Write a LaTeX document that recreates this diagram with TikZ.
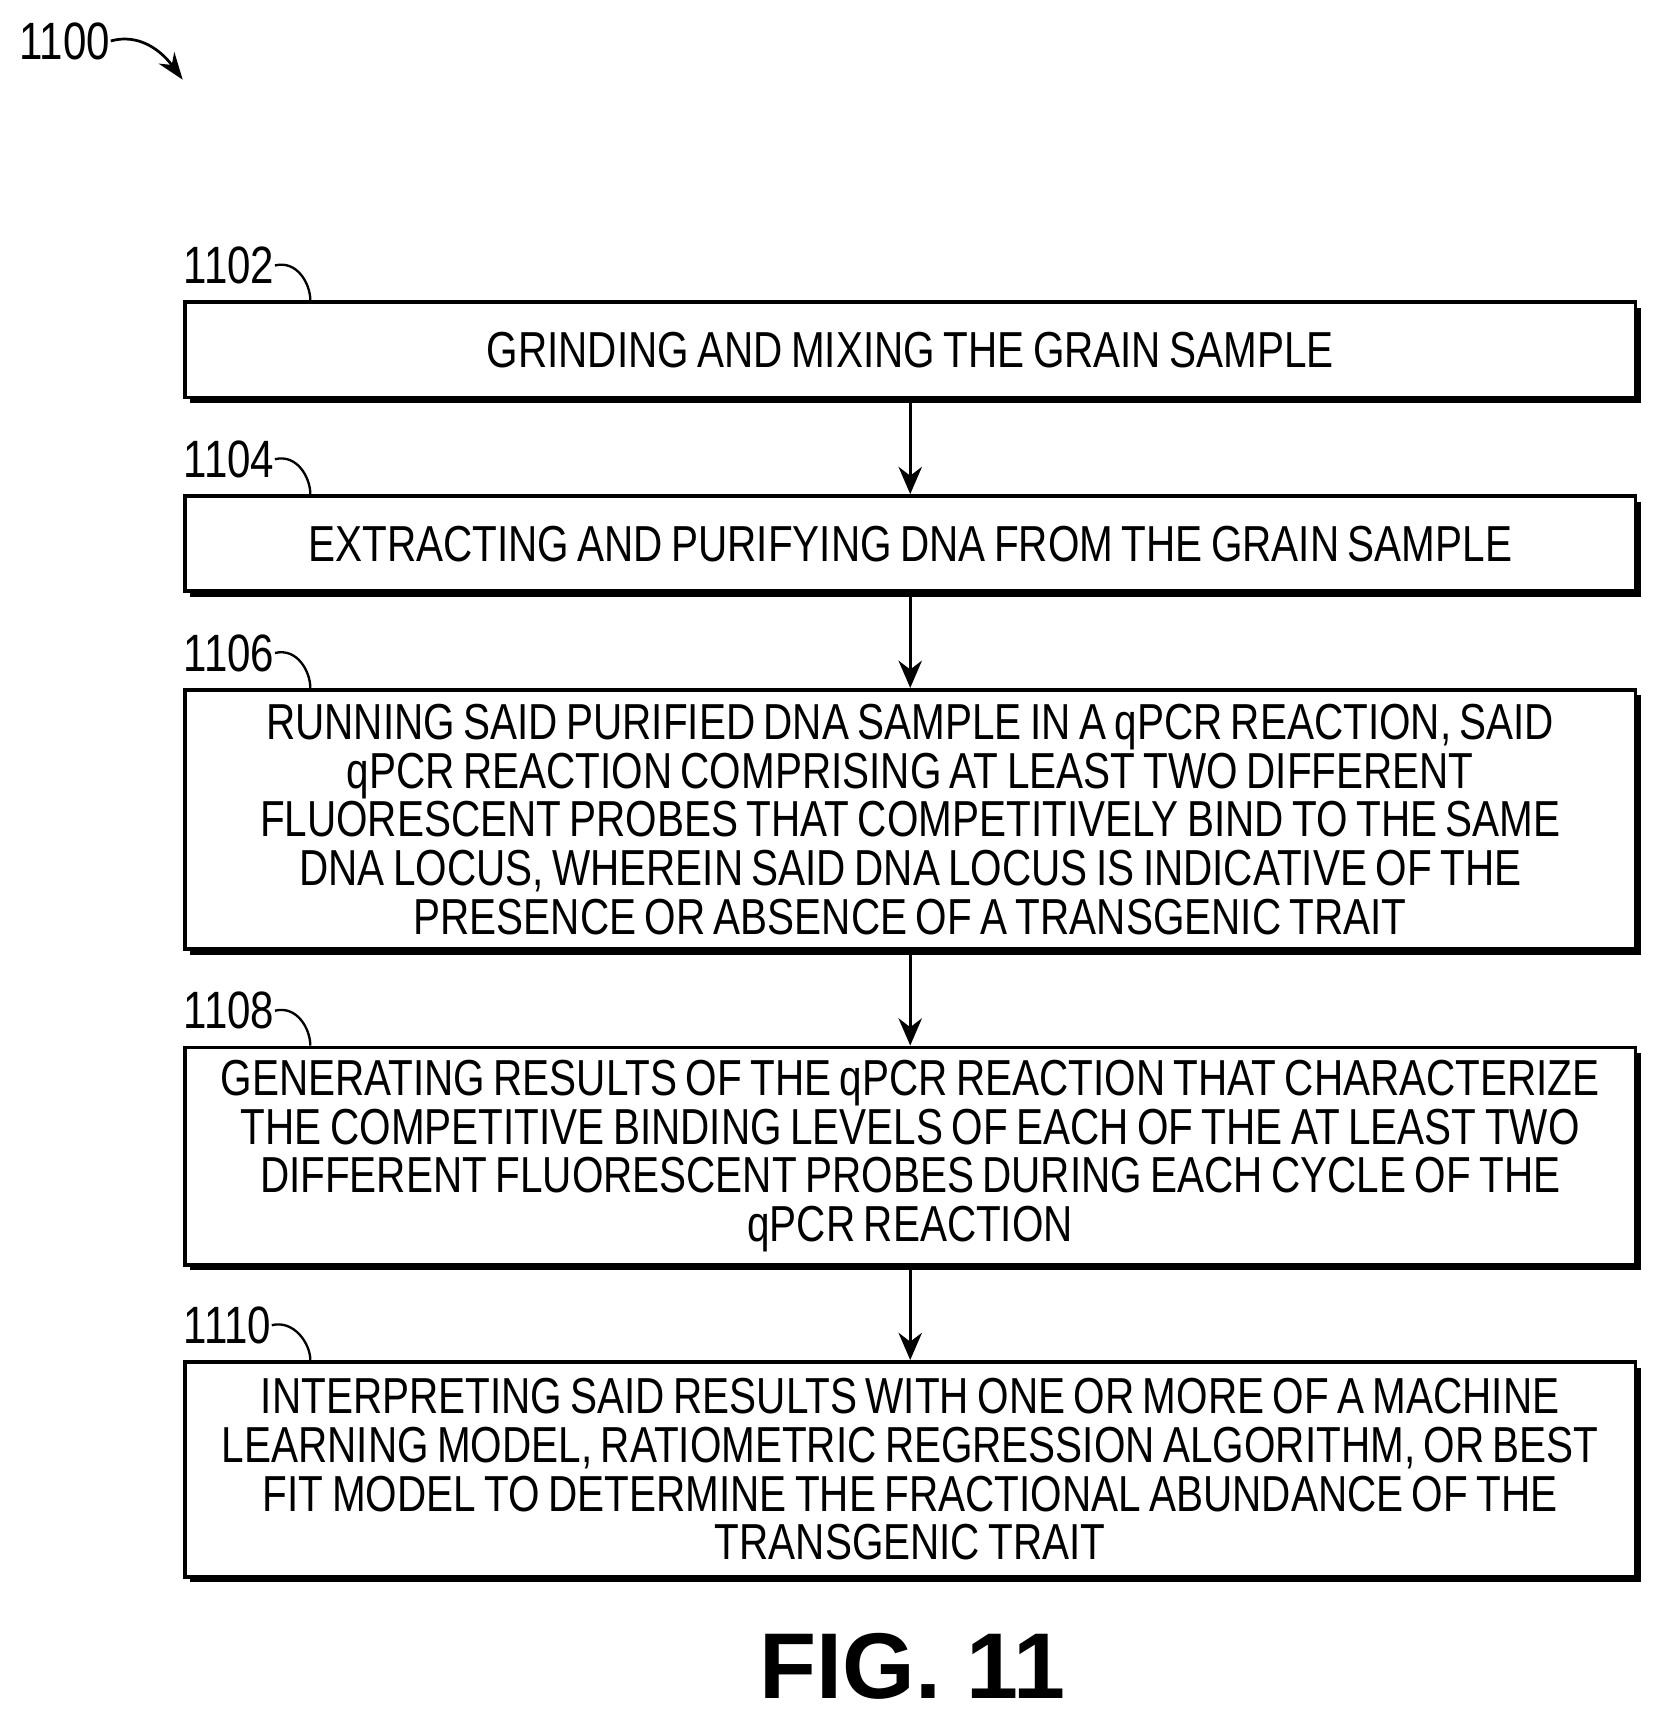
\documentclass[tikz,border=0pt]{standalone}
\usepackage{fontspec}
\setmainfont{Liberation Sans}[FakeStretch=0.8,WordSpace=0.75]
\newfontfamily\figfont{Liberation Sans}
\usetikzlibrary{arrows.meta,shadows,positioning}
\tikzset{stepbox/.style={draw,line width=1pt,fill=white,minimum width=13.1cm,align=center,inner sep=2pt,font=\fontsize{13pt}{12.5pt}\selectfont,drop shadow={shadow xshift=0.05cm,shadow yshift=-0.05cm,fill=black,opacity=1}},
num/.style={font=\fontsize{13.5pt}{14pt}\selectfont,anchor=west,inner sep=0pt}}
\begin{document}
\begin{tikzpicture}[flow/.style={-{Stealth[length=7pt,width=6pt]},line width=0.8pt},hook/.style={line width=0.6pt}]
	\useasboundingbox (0,0) rectangle (15,-15.56);
	\node[num] (n1100) at (0.17,-0.37) {1100};
	\coordinate (t1100) at (1.65,-0.72);
	\draw[-{Stealth[length=7pt,width=5pt]},line width=0.7pt] (n1100.east) .. controls (1.25,-0.30) and (1.45,-0.45) .. (t1100);

	\node[stepbox,minimum height=0.86cm] (s1) at (8.22,-3.16) {GRINDING AND MIXING THE GRAIN SAMPLE};
	\node[stepbox,minimum height=0.86cm] (s2) at (8.22,-4.91) {EXTRACTING AND PURIFYING DNA FROM THE GRAIN SAMPLE};
	\node[stepbox,minimum height=2.34cm] (s3) at (8.22,-7.40) {RUNNING SAID PURIFIED DNA SAMPLE IN A qPCR REACTION, SAID\\qPCR REACTION COMPRISING AT LEAST TWO DIFFERENT\\FLUORESCENT PROBES THAT COMPETITIVELY BIND TO THE SAME\\DNA LOCUS, WHEREIN SAID DNA LOCUS IS INDICATIVE OF THE\\PRESENCE OR ABSENCE OF A TRANSGENIC TRAIT};
	\node[stepbox,minimum height=1.96cm] (s4) at (8.22,-10.44) {GENERATING RESULTS OF THE qPCR REACTION THAT CHARACTERIZE\\THE COMPETITIVE BINDING LEVELS OF EACH OF THE AT LEAST TWO\\DIFFERENT FLUORESCENT PROBES DURING EACH CYCLE OF THE\\qPCR REACTION};
	\node[stepbox,minimum height=1.94cm] (s5) at (8.22,-13.27) {INTERPRETING SAID RESULTS WITH ONE OR MORE OF A MACHINE\\LEARNING MODEL, RATIOMETRIC REGRESSION ALGORITHM, OR BEST\\FIT MODEL TO DETERMINE THE FRACTIONAL ABUNDANCE OF THE\\TRANSGENIC TRAIT};

	% reference numerals
	\foreach \s/\n in {s1/1102,s2/1104,s3/1106,s4/1108,s5/1110}{
		\node[num,above=0.14cm of \s.north west,anchor=south west] (l\n) {\n};
		\draw[hook] (l\n.east) .. controls +(0.2,0.05) and +(0,0.15) .. ([xshift=1.15cm]\s.north west);
	}

	\draw[flow] (s1) -- (s2);
	\draw[flow] (s2) -- (s3);
	\draw[flow] (s3) -- (s4);
	\draw[flow] (s4) -- (s5);

	\node[font=\figfont\bfseries\fontsize{24pt}{26pt}\selectfont] (fig) at (8.24,-15.05) {FIG. 11};
\end{tikzpicture}
\end{document}
